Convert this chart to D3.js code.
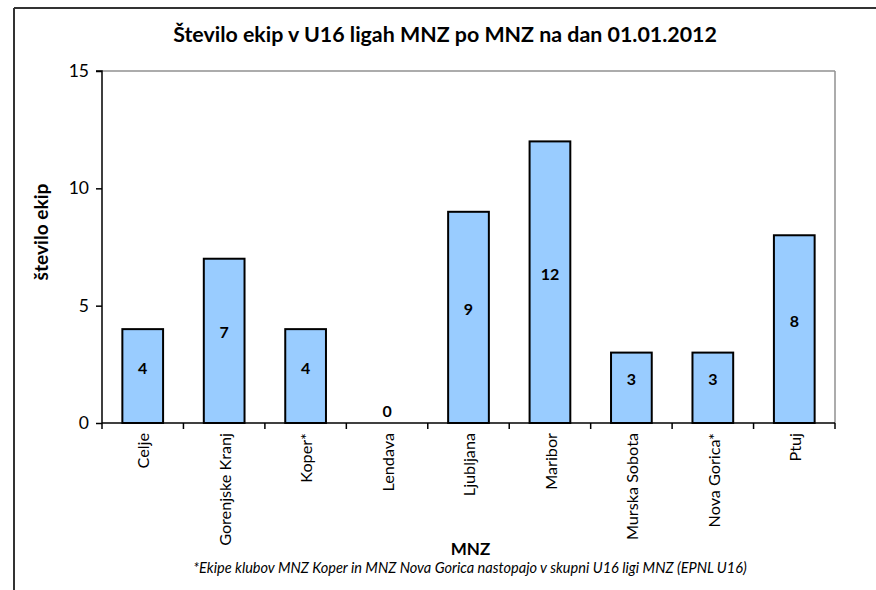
<!DOCTYPE html>
<html><head><meta charset="utf-8">
<script src="https://cdn.jsdelivr.net/npm/d3@7"></script>
<style>html,body{margin:0;padding:0;background:#fff;}svg{display:block;font-family:Lato,"Open Sans",sans-serif;}</style>
</head><body>
<svg id="c" width="876" height="590"></svg>
<script>
const categories = ["Celje","Gorenjske Kranj","Koper*","Lendava","Ljubljana","Maribor","Murska Sobota","Nova Gorica*","Ptuj"];
const values = [4,7,4,0,9,12,3,3,8];
const yTicks = [0,5,10,15];
const titleText = "Število ekip v U16 ligah MNZ po MNZ na dan 01.01.2012";
const yTitle = "število ekip";
const xTitle = "MNZ";
const footnote = "*Ekipe klubov MNZ Koper in MNZ Nova Gorica nastopajo v skupni U16 ligi MNZ (EPNL U16)";

const svg = d3.select("#c");
const L = 102, R = 835, T = 71, B = 423;

function fit(sel, target){
  const w = sel.node().getComputedTextLength();
  const fs = parseFloat(sel.attr("font-size"));
  sel.attr("font-size", (fs*target/w).toFixed(2));
}

// outer frame
svg.append("line").attr("x1",14).attr("x2",876).attr("y1",8).attr("y2",8).attr("stroke","#333").attr("stroke-width",2);
svg.append("line").attr("x1",14).attr("x2",14).attr("y1",8).attr("y2",590).attr("stroke","#333").attr("stroke-width",2);

const x = d3.scaleBand().domain(categories).range([L,R]).paddingInner(0.5).paddingOuter(0.25);
const y = d3.scaleLinear().domain([0,15]).range([B,T]);

// plot border top/right
svg.append("line").attr("x1",L).attr("x2",R).attr("y1",T).attr("y2",T).attr("stroke","#909090").attr("stroke-width",1.5);
svg.append("line").attr("x1",R).attr("x2",R).attr("y1",T).attr("y2",B).attr("stroke","#909090").attr("stroke-width",1.5);

// bars
svg.append("g").selectAll("rect").data(values).join("rect")
  .attr("x",(d,i)=>x(categories[i]))
  .attr("width",x.bandwidth())
  .attr("y",d=>y(d))
  .attr("height",d=>y(0)-y(d))
  .attr("fill","#99CCFF")
  .attr("stroke","#000")
  .attr("stroke-width",2)
  .attr("display",d=>d===0?"none":null);

// data labels
svg.append("g").selectAll("text").data(values).join("text")
  .attr("x",(d,i)=>x(categories[i])+x.bandwidth()/2)
  .attr("y",d=>Math.min(y(d/2)-8, y(0)-12))
  .attr("dy","0.35em")
  .attr("text-anchor","middle")
  .attr("font-size",16).attr("font-weight","bold").attr("fill","#000")
  .text(d=>d);

// y axis
const yAxis = svg.append("g").attr("transform",`translate(${L},0)`)
  .call(d3.axisLeft(y).tickValues(yTicks).tickSize(6).tickPadding(7).tickFormat(d3.format("d")));
yAxis.select(".domain").attr("stroke","#000").attr("stroke-width",1.5).attr("d",`M-6,${T}H0V${B}`);
yAxis.selectAll(".tick line").attr("stroke","#000").attr("stroke-width",1.5);
yAxis.selectAll(".tick text").attr("font-size",17.5).attr("fill","#000").attr("font-family","Lato,sans-serif");

// x axis
const xAxis = svg.append("g").attr("transform",`translate(0,${B})`);
xAxis.append("line").attr("x1",L).attr("x2",R).attr("stroke","#000").attr("stroke-width",1.5);
const bounds = d3.range(categories.length+1).map(i=>L+i*(R-L)/categories.length);
xAxis.selectAll(".tk").data(bounds).join("line").attr("class","tk")
  .attr("x1",d=>d).attr("x2",d=>d).attr("y1",0).attr("y2",6).attr("stroke","#000").attr("stroke-width",1.5);
xAxis.selectAll(".lbl").data(categories).join("text").attr("class","lbl")
  .attr("transform",d=>`translate(${x(d)+x.bandwidth()/2+1},10) rotate(-90)`)
  .attr("dy","0.35em")
  .attr("text-anchor","end")
  .attr("font-size",16.2).attr("fill","#000")
  .text(d=>d);

// titles
const t = svg.append("text").attr("x",445).attr("y",42).attr("text-anchor","middle")
  .attr("font-size",19).attr("font-weight","bold").attr("fill","#000").text(titleText);
fit(t,544);
const yt = svg.append("text").attr("transform","translate(48,232) rotate(-90)").attr("text-anchor","middle")
  .attr("font-size",14).attr("font-weight","bold").attr("fill","#000").text(yTitle);
fit(yt,97);
svg.append("text").attr("x",(L+R)/2+2).attr("y",555).attr("text-anchor","middle")
  .attr("font-size",17).attr("font-weight","bold").attr("fill","#000").text(xTitle);
const f = svg.append("text").attr("x",470).attr("y",573).attr("text-anchor","middle")
  .attr("font-size",12).attr("font-style","italic").attr("fill","#000").text(footnote);
fit(f,554);
</script>
</body></html>
